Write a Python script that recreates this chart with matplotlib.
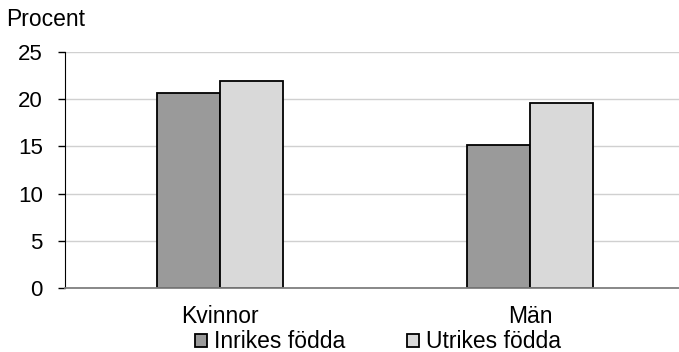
import matplotlib.pyplot as plt
import numpy as np

plt.rcParams['font.family'] = ['Liberation Sans', 'DejaVu Sans']

categories = ['Kvinnor', 'Män']
series_names = ['Inrikes födda', 'Utrikes födda']
inrikes = [20.7, 15.2]
utrikes = [21.9, 19.6]
yticks = [0, 5, 10, 15, 20, 25]

fig = plt.figure(figsize=(6.79, 3.52), dpi=100)
ax = fig.add_axes([65 / 679, 1 - 288 / 352, 1 - 65 / 679, (288 - 52) / 352])

x = np.arange(len(categories))
w = 0.203
ax.bar(x - w / 2, inrikes, w, color='#9a9a9a', edgecolor='black', linewidth=1.3,
       label=series_names[0], zorder=3)
ax.bar(x + w / 2, utrikes, w, color='#d9d9d9', edgecolor='black', linewidth=1.3,
       label=series_names[1], zorder=3)

ax.set_xlim(-0.5, (679 - 65) / 310 - 0.5)
ax.set_ylim(0, 25)
ax.set_yticks(yticks)
ax.set_xticks(x)
ax.set_xticklabels(categories, fontsize=16.5)
ax.tick_params(axis='x', length=0, pad=12)
ax.tick_params(axis='y', direction='out', length=5, width=1, labelsize=16, pad=11)
ax.grid(axis='y', color='#d0d0d0', linewidth=1, zorder=0)

for s in ['top', 'right']:
    ax.spines[s].set_visible(False)
ax.spines['left'].set_color('black')
ax.spines['bottom'].set_color('#7f7f7f')
ax.spines['bottom'].set_linewidth(1.3)
ax.spines['bottom'].set_zorder(4)

fig.text(6 / 679, 1 - 20 / 352, 'Procent', fontsize=16.5, va='center', ha='left')

fig.legend(loc='center', bbox_to_anchor=(378 / 679, 1 - 342 / 352), ncol=2,
           frameon=False, fontsize=16.5, handlelength=0.52, handleheight=0.52,
           handletextpad=0.3, columnspacing=2.7, borderaxespad=0, borderpad=0)

fig.savefig('out.png', dpi=100)
